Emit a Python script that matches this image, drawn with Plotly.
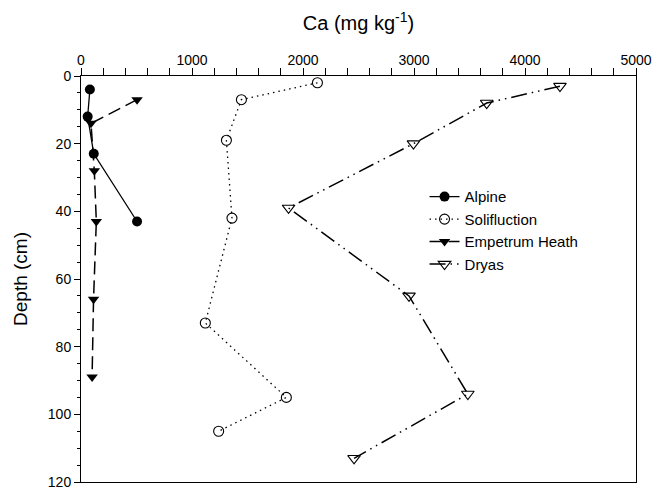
import plotly.graph_objects as go

# Data
alpine_depth = [4, 12, 23, 43]
alpine_ca = [80, 60, 115, 505]

solif_depth = [2, 7, 19, 42, 73, 95, 105]
solif_ca = [2130, 1445, 1310, 1360, 1120, 1850, 1240]

emp_depth = [7, 14, 28, 43, 66, 89]
emp_ca = [505, 90, 120, 138, 113, 100]

dryas_depth = [3, 8, 20, 39, 65, 94, 113]
dryas_ca = [4315, 3655, 2995, 1870, 2955, 3485, 2460]

x_ticks = [0, 1000, 2000, 3000, 4000, 5000]
y_ticks = [0, 20, 40, 60, 80, 100, 120]

FONT = "Liberation Sans, Arial, sans-serif"

fig = go.Figure()
fig.add_trace(go.Scatter(
    x=alpine_ca, y=alpine_depth, name="Alpine", mode="lines+markers",
    line=dict(color="black", width=1.3),
    marker=dict(symbol="circle", size=10, color="black"),
))
fig.add_trace(go.Scatter(
    x=solif_ca, y=solif_depth, name="Solifluction", mode="lines+markers",
    line=dict(color="black", width=1.3, dash="1.5px,4px"),
    marker=dict(symbol="circle-open", size=10, color="black", line=dict(width=1.1)),
))
fig.add_trace(go.Scatter(
    x=emp_ca, y=emp_depth, name="Empetrum Heath", mode="lines+markers",
    line=dict(color="black", width=1.5, dash="13px,6px"),
    marker=dict(symbol="triangle-down", size=10, color="black"),
))
fig.add_trace(go.Scatter(
    x=dryas_ca, y=dryas_depth, name="Dryas", mode="lines+markers",
    line=dict(color="black", width=1.5, dash="16px,5px,1.5px,5px,1.5px,5px"),
    marker=dict(symbol="triangle-down-open", size=11, color="black", line=dict(width=1.1)),
))

# page body has an 8px margin, so the figure is sized/offset to compensate
fig.update_layout(
    width=657, height=481,
    margin=dict(l=73, r=29, t=68, b=7),
    paper_bgcolor="white", plot_bgcolor="white",
    font=dict(family=FONT, color="black", size=14),
    showlegend=True,
    legend=dict(
        x=0.619, y=0.743, xanchor="left", yanchor="top",
        bgcolor="rgba(0,0,0,0)", borderwidth=0,
        font=dict(family=FONT, size=15, color="black"),
        tracegroupgap=0,
    ),
    xaxis=dict(
        side="top", range=[0, 5000], tickvals=x_ticks, automargin=False,
        ticklabeloverflow="allow",
        ticks="outside", ticklen=4, tickwidth=1, tickcolor="black",
        minor=dict(dtick=200, ticks="outside", ticklen=7, tickwidth=1, tickcolor="black"),
        showline=True, linecolor="black", linewidth=1, mirror=True,
        showgrid=False, zeroline=False,
        tickfont=dict(size=14),
        title=dict(text="Ca (mg kg<sup>-1</sup>)", font=dict(size=20), standoff=16),
    ),
    yaxis=dict(
        range=[120, 0], tickvals=y_ticks, automargin=False,
        ticklabeloverflow="allow",
        ticks="outside", ticklen=6, tickwidth=1, tickcolor="black",
        minor=dict(dtick=5, ticks="outside", ticklen=3, tickwidth=1, tickcolor="black"),
        showline=True, linecolor="black", linewidth=1, mirror=True,
        showgrid=False, zeroline=False,
        tickfont=dict(size=14),
        title=dict(text="Depth (cm)", font=dict(size=19), standoff=15),
    ),
)

fig.write_html("out.html")
